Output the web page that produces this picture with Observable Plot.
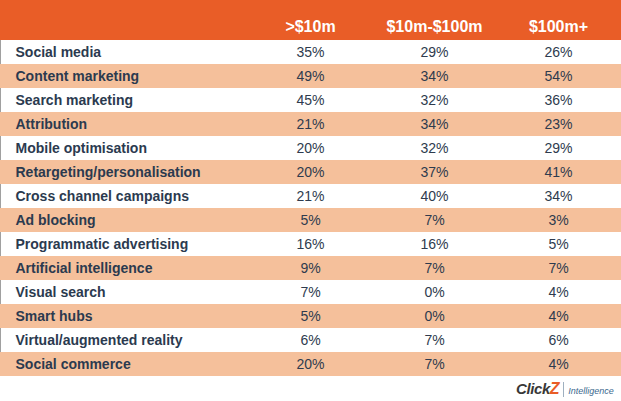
<!DOCTYPE html>
<html><head><meta charset="utf-8">
<script src="https://cdn.jsdelivr.net/npm/d3@7"></script>
<script src="https://cdn.jsdelivr.net/npm/@observablehq/plot@0.6"></script>
<style>
html,body{margin:0;padding:0;background:#fff;}
#wrap{position:relative;width:621px;height:401px;overflow:hidden;font-family:Arial,"Liberation Sans",sans-serif;}
#chart svg{display:block;background:linear-gradient(to bottom,#E95D27 0,#E95D27 40px,#ffffff 40px) !important;}
#logo{position:absolute;left:516px;top:379px;height:20px;white-space:nowrap;display:flex;align-items:center;}
#logo .ck{font-size:15px;font-weight:bold;font-style:italic;color:#383838;letter-spacing:-0.4px;}
#logo .z{color:#E95D27;font-size:16px;}
#logo .sep{display:inline-block;width:1px;height:15px;background:#9fb0c0;margin:0 4px 0 4px;}
#logo .int{font-size:9px;font-style:italic;color:#3d6a8f;padding-top:3px;}
</style></head>
<body><div id="wrap"><div id="chart"></div>
<div id="logo"><span class="ck">Click<span class="z">Z</span></span><span class="sep"></span><span class="int">Intelligence</span></div>
</div>
<script>
const categories = ["Social media","Content marketing","Search marketing","Attribution","Mobile optimisation","Retargeting/personalisation","Cross channel campaigns","Ad blocking","Programmatic advertising","Artificial intelligence","Visual search","Smart hubs","Virtual/augmented reality","Social commerce"];
const columns = [">$10m","$10m-$100m","$100m+"];
const under10m = [35,49,45,21,20,20,21,5,16,9,7,5,6,20];
const from10to100m = [29,34,32,34,32,37,40,7,16,7,0,0,7,7];
const over100m = [26,54,36,23,29,41,34,3,5,7,4,4,6,4];

const series = [under10m, from10to100m, over100m];
const rows = categories.map((c, i) => ({category: c, shaded: i % 2 === 1}));
const cells = categories.flatMap((c, i) => columns.map((col, j) => ({category: c, column: col, value: series[j][i]})));

const chart = Plot.plot({
  width: 621, height: 376,
  marginTop: 40, marginBottom: 0, marginLeft: 0, marginRight: 0,
  x: {type: "band", domain: columns, range: [248, 620], padding: 0, axis: null},
  y: {type: "band", domain: categories, padding: 0, axis: null},
  style: {fontFamily: "Arial, 'Liberation Sans', sans-serif", background: "transparent"},
  marks: [
    Plot.frame({anchor: "left", stroke: "#a0a0a0"}),
    Plot.cell(rows.filter(d => d.shaded), {y: "category", fill: "#F5C09B", inset: 0}),
    Plot.text(columns, {x: d => d, frameAnchor: "top", dy: -20, fill: "white", fontWeight: "bold", fontSize: 16}),
    Plot.text(categories, {y: d => d, frameAnchor: "left", dx: 15, textAnchor: "start", fontWeight: "bold", fontSize: 14, fill: "#2b3a4f"}),
    Plot.text(cells, {x: "column", y: "category", text: d => d.value + "%", fontSize: 14, fill: "#2e3b4e"})
  ]
});
document.getElementById("chart").appendChild(chart);
</script>
</body></html>
